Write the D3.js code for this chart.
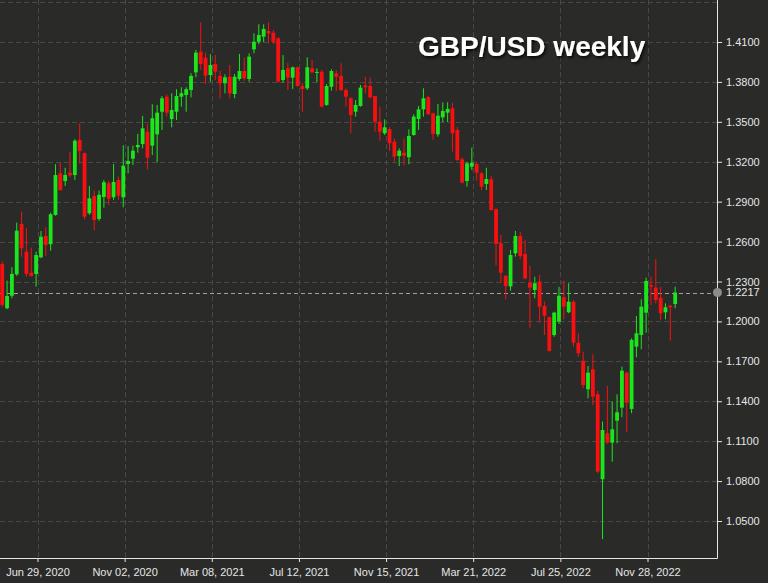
<!DOCTYPE html>
<html>
<head>
<meta charset="utf-8">
<script src="https://cdn.jsdelivr.net/npm/d3@7"></script>
<style>
  html, body { margin: 0; padding: 0; background: #2a2b29; }
  svg { display: block; }
  .axis text { font-family: "Liberation Sans", Arial, sans-serif; font-size: 11px; fill: #e6e6e6; }
  .axis line { stroke: #e6e6e6; }
</style>
</head>
<body>
<svg width="768" height="583"></svg>
<script>
// weekly GBP/USD candles, first bar = week of 9 May 2020
var firstWeek = "2020-05-09";

var opens = [
  1.2432, 1.2099, 1.2193, 1.2354, 1.2732, 1.2524, 1.2366, 1.2357, 1.2482, 1.2642,
  1.2580, 1.2800, 1.3113, 1.3055, 1.3118, 1.3100, 1.3364, 1.3264, 1.2813, 1.2943,
  1.2770, 1.2935, 1.3038, 1.2933, 1.3063, 1.2933, 1.3183, 1.3223, 1.3309, 1.3333,
  1.3426, 1.3321, 1.3406, 1.3576, 1.3689, 1.3521, 1.3576, 1.3689, 1.3702, 1.3739,
  1.3872, 1.4027, 1.3982, 1.3852, 1.3935, 1.3845, 1.3790, 1.3839, 1.3709, 1.3822,
  1.3882, 1.3822, 1.4045, 1.4102, 1.4140, 1.4183, 1.4170, 1.4128, 1.3814, 1.3902,
  1.3832, 1.3910, 1.3769, 1.3752, 1.3902, 1.3870, 1.3877, 1.3627, 1.3764, 1.3865,
  1.3845, 1.3739, 1.3677, 1.3576, 1.3619, 1.3772, 1.3769, 1.3694, 1.3501, 1.3414,
  1.3446, 1.3351, 1.3243, 1.3268, 1.3234, 1.3401, 1.3521, 1.3594, 1.3684, 1.3564,
  1.3406, 1.3534, 1.3569, 1.3602, 1.3439, 1.3218, 1.3055, 1.3163, 1.3183, 1.3113,
  1.3033, 1.3068, 1.2843, 1.2587, 1.2342, 1.2263, 1.2512, 1.2642, 1.2507, 1.2291,
  1.2236, 1.2299, 1.2116, 1.2031, 1.1898, 1.1998, 1.2181, 1.2069, 1.2148, 1.1840,
  1.1705, 1.1490, 1.1640, 1.1452, 1.0814, 1.1159, 1.1089, 1.1254, 1.1352, 1.1615,
  1.1342, 1.1810, 1.1898, 1.2066, 1.2274, 1.2254, 1.2178, 1.2069, 1.2118, 1.2131
];
var highs = [
  1.2449, 1.2306, 1.2407, 1.2742, 1.2825, 1.2700, 1.2554, 1.2524, 1.2680, 1.2707,
  1.2817, 1.3181, 1.3193, 1.3155, 1.3273, 1.3369, 1.3489, 1.3270, 1.3018, 1.2983,
  1.2983, 1.3063, 1.3055, 1.3183, 1.3088, 1.3324, 1.3318, 1.3321, 1.3409, 1.3544,
  1.3484, 1.3632, 1.3627, 1.3694, 1.3707, 1.3715, 1.3745, 1.3760, 1.3760, 1.3865,
  1.4040, 1.4248, 1.4020, 1.4008, 1.4002, 1.3882, 1.3857, 1.3927, 1.3860, 1.4010,
  1.3982, 1.4015, 1.4165, 1.4233, 1.4233, 1.4248, 1.4190, 1.4135, 1.4002, 1.3944,
  1.3915, 1.3915, 1.3790, 1.3985, 1.3965, 1.3902, 1.3890, 1.3784, 1.3895, 1.3890,
  1.3940, 1.3752, 1.3684, 1.3664, 1.3777, 1.3839, 1.3832, 1.3694, 1.3614, 1.3519,
  1.3459, 1.3376, 1.3301, 1.3376, 1.3444, 1.3557, 1.3619, 1.3752, 1.3694, 1.3569,
  1.3634, 1.3647, 1.3647, 1.3644, 1.3463, 1.3233, 1.3200, 1.3306, 1.3200, 1.3125,
  1.3155, 1.3093, 1.2850, 1.2650, 1.2349, 1.2537, 1.2680, 1.2674, 1.2612, 1.2417,
  1.2336, 1.2349, 1.2148, 1.2036, 1.2073, 1.2261, 1.2306, 1.2287, 1.2161, 1.1911,
  1.1773, 1.1665, 1.1753, 1.1477, 1.1247, 1.1515, 1.1397, 1.1452, 1.1660, 1.1622,
  1.1873, 1.2041, 1.2166, 1.2329, 1.2336, 1.2467, 1.2261, 1.2136, 1.2124, 1.2261
];
var lows = [
  1.2111, 1.2091, 1.2174, 1.2342, 1.2487, 1.2336, 1.2336, 1.2261, 1.2475, 1.2492,
  1.2532, 1.2795, 1.2980, 1.3018, 1.3083, 1.3063, 1.3188, 1.2768, 1.2800, 1.2687,
  1.2755, 1.2855, 1.2875, 1.2913, 1.2913, 1.2858, 1.3113, 1.3176, 1.3268, 1.3301,
  1.3143, 1.3251, 1.3196, 1.3439, 1.3539, 1.3459, 1.3514, 1.3614, 1.3576, 1.3684,
  1.3835, 1.3890, 1.3784, 1.3802, 1.3814, 1.3677, 1.3714, 1.3677, 1.3677, 1.3809,
  1.3809, 1.3802, 1.4015, 1.4083, 1.4098, 1.4090, 1.4085, 1.3795, 1.3794, 1.3739,
  1.3747, 1.3764, 1.3576, 1.3739, 1.3865, 1.3797, 1.3609, 1.3620, 1.3734, 1.3732,
  1.3732, 1.3614, 1.3414, 1.3539, 1.3614, 1.3714, 1.3677, 1.3426, 1.3358, 1.3401,
  1.3283, 1.3200, 1.3168, 1.3176, 1.3181, 1.3396, 1.3439, 1.3539, 1.3551, 1.3364,
  1.3388, 1.3497, 1.3497, 1.3276, 1.3205, 1.3038, 1.3013, 1.3138, 1.3058, 1.2988,
  1.2988, 1.2832, 1.2420, 1.2289, 1.2166, 1.2231, 1.2487, 1.2467, 1.2317, 1.1953,
  1.2174, 1.1991, 1.1898, 1.1773, 1.1885, 1.1981, 1.2016, 1.2061, 1.1810, 1.1735,
  1.1498, 1.1422, 1.1372, 1.0859, 1.0363, 1.1080, 1.0946, 1.1084, 1.1280, 1.1167,
  1.1310, 1.1731, 1.1791, 1.1915, 1.2124, 1.2136, 1.2011, 1.2016, 1.1855, 1.2099
];
var closes = [
  1.2124, 1.2191, 1.2357, 1.2682, 1.2550, 1.2357, 1.2342, 1.2499, 1.2637, 1.2574,
  1.2805, 1.3100, 1.2988, 1.3100, 1.3098, 1.3358, 1.3281, 1.2787, 1.2925, 1.2762,
  1.2952, 1.3046, 1.2922, 1.3048, 1.2945, 1.3170, 1.3206, 1.3283, 1.3326, 1.3451,
  1.3231, 1.3527, 1.3569, 1.3677, 1.3569, 1.3589, 1.3694, 1.3715, 1.3745, 1.3845,
  1.4020, 1.3935, 1.3847, 1.3927, 1.3877, 1.3790, 1.3835, 1.3714, 1.3839, 1.3882,
  1.3827, 1.3990, 1.4102, 1.4153, 1.4198, 1.4165, 1.4102, 1.3802, 1.3890, 1.3832,
  1.3910, 1.3769, 1.3747, 1.3910, 1.3872, 1.3875, 1.3614, 1.3769, 1.3882, 1.3839,
  1.3739, 1.3689, 1.3551, 1.3627, 1.3757, 1.3760, 1.3684, 1.3501, 1.3426, 1.3459,
  1.3339, 1.3238, 1.3283, 1.3246, 1.3394, 1.3539, 1.3594, 1.3677, 1.3557, 1.3409,
  1.3546, 1.3582, 1.3597, 1.3414, 1.3213, 1.3043, 1.3188, 1.3193, 1.3118, 1.3013,
  1.3070, 1.2837, 1.2582, 1.2366, 1.2266, 1.2499, 1.2642, 1.2492, 1.2324, 1.2254,
  1.2287, 1.2111, 1.2043, 1.1778, 1.2066, 1.2193, 1.2111, 1.2148, 1.1840, 1.1761,
  1.1522, 1.1615, 1.1434, 1.0871, 1.1184, 1.1089, 1.1189, 1.1317, 1.1630, 1.1389,
  1.1861, 1.1911, 1.2111, 1.2304, 1.2261, 1.2161, 1.2061, 1.2106, 1.2106, 1.2217
];

var dateTicks = ["2020-06-29", "2020-11-02", "2021-03-08", "2021-07-12",
                 "2021-11-15", "2022-03-21", "2022-07-25", "2022-11-28"];
var priceTicks = [1.05, 1.08, 1.11, 1.14, 1.17, 1.20, 1.23, 1.26, 1.29, 1.32, 1.35, 1.38, 1.41];
var extraGrid = [1.44];
var lastPrice = 1.2217;
var title = "GBP/USD weekly";

var svg = d3.select("svg"),
    width = +svg.attr("width"),
    height = +svg.attr("height");

var plotRight = 717,
    plotBottom = 558;

var parse = d3.utcParse("%Y-%m-%d");
var start = parse(firstWeek);
var weeks = d3.utcSaturday.range(start, d3.utcSaturday.offset(start, opens.length));

var candles = weeks.map(function (d, i) {
    return { date: d, open: opens[i], high: highs[i], low: lows[i], close: closes[i] };
});

var tickDates = dateTicks.map(parse);

var x = d3.scaleUtc()
    .domain([tickDates[0], tickDates[tickDates.length - 1]])
    .range([37.5, 647.5]);

var y = d3.scaleLinear()
    .domain([1.05, 1.41])
    .range([521, 42]);

var green = "#1be61b",
    red = "#f81010";

// drop shadow for the title
var defs = svg.append("defs");
defs.append("filter")
    .attr("id", "shadow")
    .attr("x", "-10%").attr("y", "-30%")
    .attr("width", "120%").attr("height", "160%")
    .append("feDropShadow")
    .attr("dx", 1.5).attr("dy", 2)
    .attr("stdDeviation", 1.5)
    .attr("flood-color", "#000")
    .attr("flood-opacity", 0.85);

svg.append("rect")
    .attr("width", width)
    .attr("height", height)
    .attr("fill", "#2a2b29");

// grid
var grid = svg.append("g").attr("class", "grid");

grid.selectAll("line.h")
    .data(priceTicks.concat(extraGrid))
    .enter().append("line")
    .attr("class", "h")
    .attr("x1", 0)
    .attr("x2", plotRight)
    .attr("y1", function (d) { return Math.round(y(d)) + 0.5; })
    .attr("y2", function (d) { return Math.round(y(d)) + 0.5; })
    .attr("stroke", "#484947")
    .attr("stroke-dasharray", "5,3");

grid.selectAll("line.v")
    .data(tickDates)
    .enter().append("line")
    .attr("class", "v")
    .attr("x1", function (d) { return Math.round(x(d)) + 0.5; })
    .attr("x2", function (d) { return Math.round(x(d)) + 0.5; })
    .attr("y1", 0)
    .attr("y2", plotBottom)
    .attr("stroke", "#484947")
    .attr("stroke-dasharray", "5,3");

// last price line
svg.append("line")
    .attr("x1", 0)
    .attr("x2", plotRight)
    .attr("y1", Math.round(y(lastPrice)) + 0.5)
    .attr("y2", Math.round(y(lastPrice)) + 0.5)
    .attr("stroke", "#a0a0a0")
    .attr("stroke-dasharray", "4,3");

// candles
var bars = svg.append("g")
    .attr("class", "candles")
    .selectAll("g")
    .data(candles)
    .enter().append("g");

bars.append("line")
    .attr("x1", function (d) { return x(d.date); })
    .attr("x2", function (d) { return x(d.date); })
    .attr("y1", function (d) { return y(d.high); })
    .attr("y2", function (d) { return y(d.low); })
    .attr("stroke", function (d) { return d.close >= d.open ? green : red; })
    .attr("stroke-width", 1);

bars.append("rect")
    .attr("x", function (d) { return x(d.date) - 1.9; })
    .attr("width", 3.8)
    .attr("y", function (d) { return y(Math.max(d.open, d.close)); })
    .attr("height", function (d) {
        return Math.max(1, Math.abs(y(d.open) - y(d.close)));
    })
    .attr("fill", function (d) { return d.close >= d.open ? green : red; });

// right price axis
var yAxis = svg.append("g")
    .attr("class", "axis")
    .attr("transform", "translate(" + plotRight + ",0)")
    .call(d3.axisRight(y)
        .tickValues(priceTicks)
        .tickFormat(d3.format(".4f"))
        .tickSize(5)
        .tickPadding(4));
yAxis.select(".domain").remove();

yAxis.append("line")
    .attr("x1", 0.5).attr("x2", 0.5)
    .attr("y1", 0).attr("y2", plotBottom + 0.5)
    .attr("stroke", "#e6e6e6");

// bottom date axis
var xAxis = svg.append("g")
    .attr("class", "axis")
    .attr("transform", "translate(0," + plotBottom + ")")
    .call(d3.axisBottom(x)
        .tickValues(tickDates)
        .tickFormat(d3.utcFormat("%b %d, %Y"))
        .tickSize(4)
        .tickPadding(6));
xAxis.select(".domain").remove();

xAxis.append("line")
    .attr("x1", 0).attr("x2", plotRight + 0.5)
    .attr("y1", 0.5).attr("y2", 0.5)
    .attr("stroke", "#e6e6e6");

// last price marker
svg.append("circle")
    .attr("cx", plotRight + 0.5)
    .attr("cy", y(lastPrice))
    .attr("r", 4.5)
    .attr("fill", "#8c8c8c");

svg.append("text")
    .attr("x", plotRight + 9)
    .attr("y", y(lastPrice))
    .attr("dy", "0.32em")
    .attr("font-family", "'Liberation Sans', Arial, sans-serif")
    .attr("font-size", "11px")
    .attr("fill", "#e6e6e6")
    .text(d3.format(".4f")(lastPrice));

svg.append("text")
    .attr("x", 418)
    .attr("y", 56)
    .attr("font-family", "'Liberation Sans', Arial, sans-serif")
    .attr("font-size", "28px")
    .attr("font-weight", "bold")
    .attr("fill", "#ffffff")
    .attr("filter", "url(#shadow)")
    .text(title);
</script>
</body>
</html>
